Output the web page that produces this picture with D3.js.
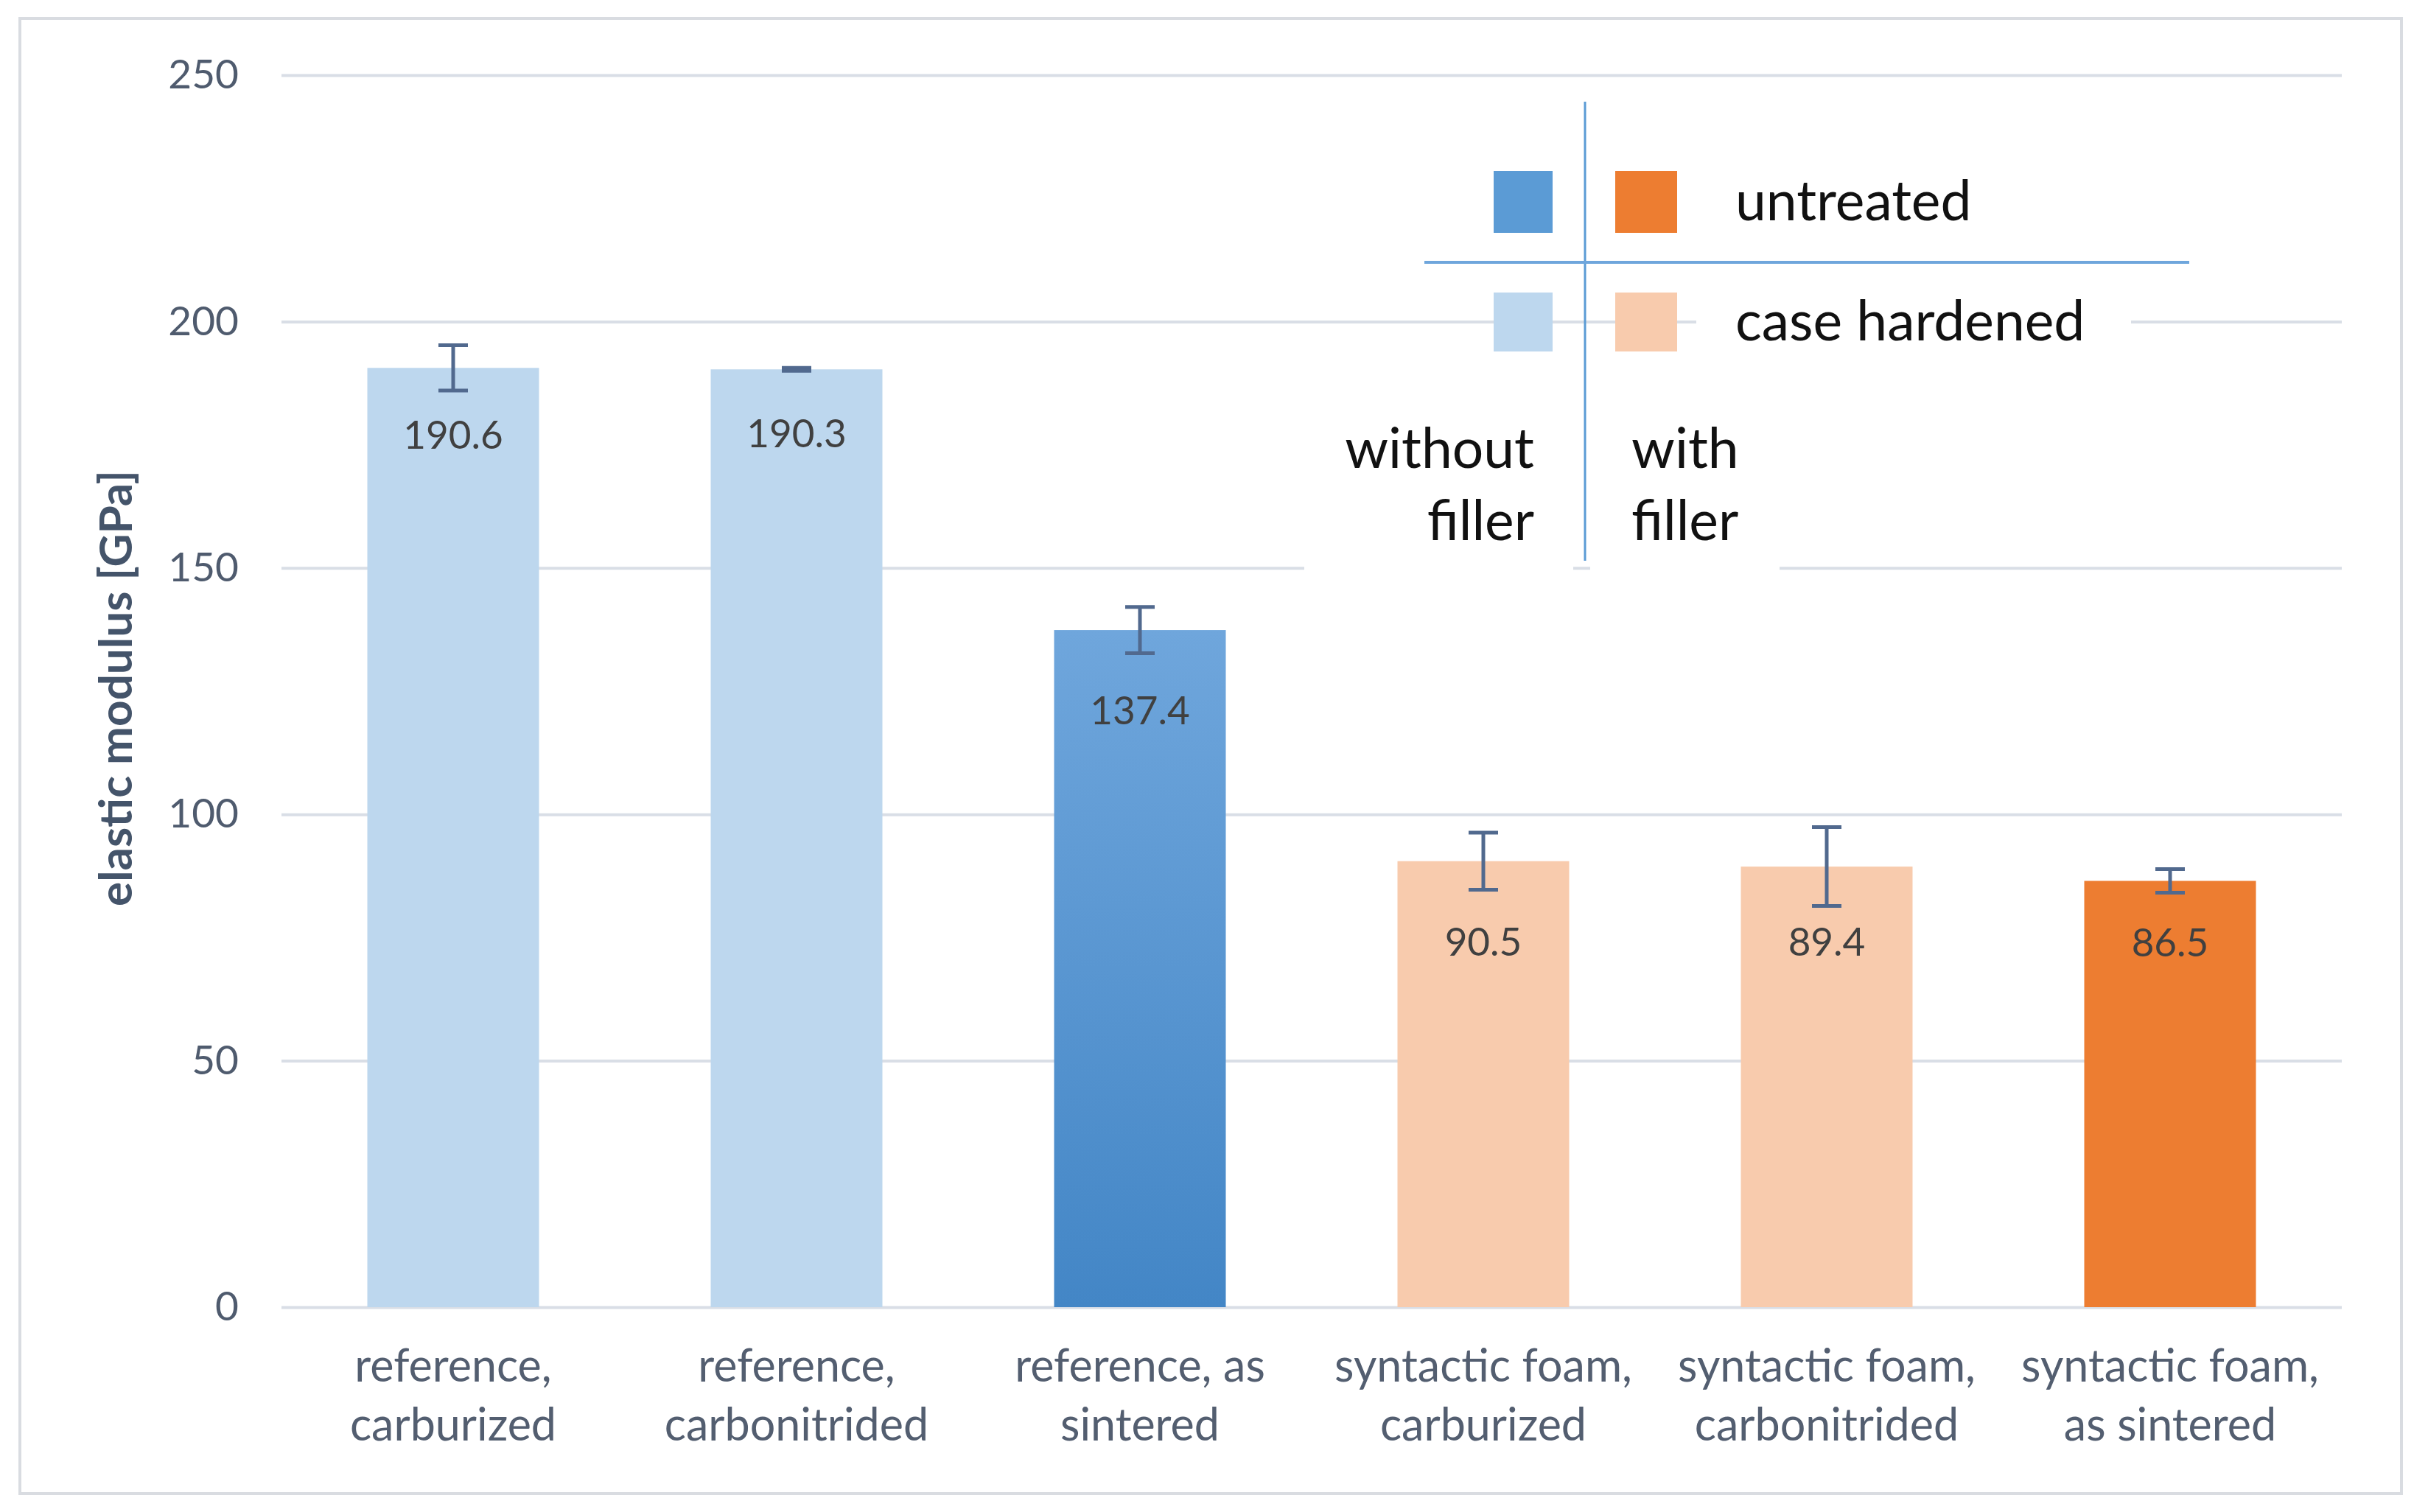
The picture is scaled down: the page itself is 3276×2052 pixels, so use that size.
<!DOCTYPE html>
<html>
<head>
<meta charset="utf-8">
<script src="https://cdn.jsdelivr.net/npm/d3@7"></script>
<style>
  body { margin: 0; background: #fff; }
  text { font-family: Lato, "Open Sans", sans-serif; }
</style>
</head>
<body>
<div id="chart"></div>
<script>
// data
var categories = ["reference, carburized", "reference, carbonitrided", "reference, as sintered",
                  "syntactic foam, carburized", "syntactic foam, carbonitrided", "syntactic foam, as sintered"];
var labelLines = [["reference,", "carburized"], ["reference,", "carbonitrided"], ["reference, as", "sintered"],
                  ["syntactic foam,", "carburized"], ["syntactic foam,", "carbonitrided"], ["syntactic foam,", "as sintered"]];
var values = [190.6, 190.3, 137.4, 90.5, 89.4, 86.5];
var errors = [4.6, 0.3, 4.7, 5.8, 8.0, 2.4];
var filler = ["without", "without", "without", "with", "with", "with"];
var treatment = ["case hardened", "case hardened", "untreated", "case hardened", "case hardened", "untreated"];
var yTicks = [0, 50, 100, 150, 200, 250];
var legendRows = ["untreated", "case hardened"];
var legendCols = ["without", "with"];

// value label offsets below bar top (px), as placed in the figure
var labelDy = [96, 92, 115, 115, 107, 89];

// colours per filler / treatment
var palette = {
  "without|untreated": "url(#blueGrad)",
  "without|case hardened": "#BDD7EE",
  "with|untreated": "#ED7D31",
  "with|case hardened": "#F8CBAD"
};
var legendPalette = {
  "without|untreated": "#5B9BD5",
  "without|case hardened": "#BDD7EE",
  "with|untreated": "#ED7D31",
  "with|case hardened": "#F8CBAD"
};

var W = 3276, H = 2052;
var margin = {left: 382, right: 98, top: 102, bottom: 278};
var width = W - margin.left - margin.right,
    height = H - margin.top - margin.bottom;

var svg = d3.select("#chart").append("svg")
  .attr("width", W).attr("height", H);

var defs = svg.append("defs");
var grad = defs.append("linearGradient").attr("id", "blueGrad")
  .attr("x1", 0).attr("y1", 0).attr("x2", 0).attr("y2", 1);
grad.append("stop").attr("offset", "0%").attr("stop-color", "#6FA6DC");
grad.append("stop").attr("offset", "100%").attr("stop-color", "#4386C6");

// outer frame
svg.append("rect")
  .attr("x", 27).attr("y", 25).attr("width", 3232).attr("height", 2002)
  .attr("fill", "#fff").attr("stroke", "#D9DCE1").attr("stroke-width", 4);

var g = svg.append("g").attr("transform", "translate(" + margin.left + "," + margin.top + ")");

var x = d3.scaleBand().domain(categories).range([0, width]).paddingInner(0.5).paddingOuter(0.25);
var y = d3.scaleLinear().domain([0, 250]).range([height, 0]);

// gridlines + y labels
var yAxis = g.append("g")
  .call(d3.axisLeft(y).tickValues(yTicks).tickSize(-width).tickPadding(58).tickFormat(d3.format("d")));
yAxis.select(".domain").remove();
yAxis.selectAll(".tick line").attr("stroke", "#D9DEE6").attr("stroke-width", 4);
yAxis.selectAll(".tick text").attr("fill", "#4F5B6E").attr("font-size", 55);

// y title
svg.append("text")
  .attr("transform", "translate(163," + (margin.top + height * 0.5 - 4) + ") rotate(-90)")
  .attr("text-anchor", "middle").attr("dominant-baseline", "middle")
  .attr("font-size", 62).attr("font-weight", "bold").attr("fill", "#44546A")
  .text("elastic modulus [GPa]");

// bars
g.selectAll("rect.bar").data(categories).enter().append("rect")
  .attr("class", "bar")
  .attr("x", function(d) { return x(d); })
  .attr("y", function(d, i) { return y(values[i]); })
  .attr("width", x.bandwidth())
  .attr("height", function(d, i) { return height - y(values[i]); })
  .attr("fill", function(d, i) { return palette[filler[i] + "|" + treatment[i]]; });

// error bars
var cap = 20;
var eb = g.selectAll("g.err").data(categories).enter().append("g")
  .attr("class", "err")
  .attr("stroke", "#51698E").attr("stroke-width", 5);
eb.append("line")
  .attr("x1", function(d) { return x(d) + x.bandwidth() / 2; })
  .attr("x2", function(d) { return x(d) + x.bandwidth() / 2; })
  .attr("y1", function(d, i) { return y(values[i] + errors[i]); })
  .attr("y2", function(d, i) { return y(values[i] - errors[i]); });
eb.append("line")
  .attr("x1", function(d) { return x(d) + x.bandwidth() / 2 - cap; })
  .attr("x2", function(d) { return x(d) + x.bandwidth() / 2 + cap; })
  .attr("y1", function(d, i) { return y(values[i] + errors[i]); })
  .attr("y2", function(d, i) { return y(values[i] + errors[i]); });
eb.append("line")
  .attr("x1", function(d) { return x(d) + x.bandwidth() / 2 - cap; })
  .attr("x2", function(d) { return x(d) + x.bandwidth() / 2 + cap; })
  .attr("y1", function(d, i) { return y(values[i] - errors[i]); })
  .attr("y2", function(d, i) { return y(values[i] - errors[i]); });

// value labels
g.selectAll("text.val").data(categories).enter().append("text")
  .attr("class", "val")
  .attr("x", function(d) { return x(d) + x.bandwidth() / 2; })
  .attr("y", function(d, i) { return y(values[i]) + labelDy[i]; })
  .attr("text-anchor", "middle").attr("dominant-baseline", "middle")
  .attr("font-size", 53).attr("fill", "#404040")
  .text(function(d, i) { return values[i].toFixed(1); });

// category labels
var xl = g.selectAll("text.cat").data(categories).enter().append("text")
  .attr("class", "cat")
  .attr("text-anchor", "middle")
  .attr("font-size", 61).attr("fill", "#535E70");
xl.selectAll("tspan").data(function(d, i) { return labelLines[i]; }).enter().append("tspan")
  .attr("x", function() { var d = d3.select(this.parentNode).datum(); return x(d) + x.bandwidth() / 2; })
  .attr("y", function(d, j) { return height + 86 + j * 80; })
  .attr("dominant-baseline", "middle")
  .text(function(d) { return d; });

// legend (matrix style)
var lg = svg.append("g");
// white backgrounds behind the legend texts
lg.append("rect").attr("x", 2302).attr("y", 392).attr("width", 590).attr("height", 88).attr("fill", "#fff");
lg.append("rect").attr("x", 1770).attr("y", 540).attr("width", 365).attr("height", 250).attr("fill", "#fff");
lg.append("rect").attr("x", 2158).attr("y", 540).attr("width", 257).attr("height", 250).attr("fill", "#fff");

lg.append("line").attr("x1", 2151).attr("x2", 2151).attr("y1", 138).attr("y2", 761)
  .attr("stroke", "#5B9BD5").attr("stroke-width", 3);
lg.append("line").attr("x1", 1933).attr("x2", 2971).attr("y1", 356).attr("y2", 356)
  .attr("stroke", "#6FA6DC").attr("stroke-width", 4);

var colX = {"without": 2027, "with": 2192};
var colW = {"without": 80, "with": 84};
var rowY = {"untreated": 232, "case hardened": 397};
var rowH = {"untreated": 84, "case hardened": 80};
legendRows.forEach(function(r) {
  legendCols.forEach(function(c) {
    lg.append("rect").attr("x", colX[c]).attr("y", rowY[r])
      .attr("width", colW[c]).attr("height", rowH[r])
      .attr("fill", legendPalette[c + "|" + r]);
  });
  lg.append("text").attr("x", 2355).attr("y", rowY[r] + rowH[r] / 2 + 6)
    .attr("dominant-baseline", "middle").attr("font-size", 75).attr("fill", "#111")
    .text(r);
});
legendCols.forEach(function(c, k) {
  var t = lg.append("text")
    .attr("text-anchor", k === 0 ? "end" : "start")
    .attr("font-size", 75).attr("fill", "#111");
  [c, "filler"].forEach(function(s, j) {
    t.append("tspan").attr("x", k === 0 ? 2082 : 2214).attr("y", 616 + j * 98)
      .attr("dominant-baseline", "middle").text(s);
  });
});
</script>
</body>
</html>
